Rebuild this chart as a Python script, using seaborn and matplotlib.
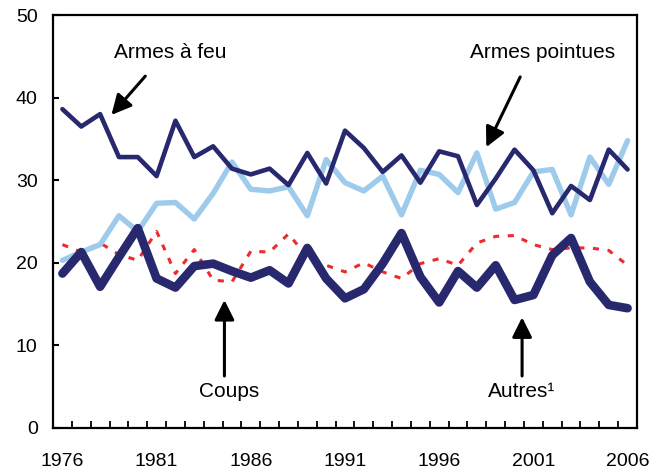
import numpy as np
import pandas as pd
import matplotlib
matplotlib.use("Agg")
import matplotlib.pyplot as plt
import seaborn as sns

# ── data ───────────────────────────────────────────────────
years = list(range(1976, 2007))

armes_feu = [38.6, 36.5, 38.0, 32.8, 32.8, 30.5, 37.2, 32.8, 34.1, 31.4,
             30.7, 31.4, 29.4, 33.3, 29.6, 36.0, 33.9, 31.0, 33.0, 29.7,
             33.5, 32.9, 27.0, 30.2, 33.7, 31.2, 26.0, 29.3, 27.6, 33.7, 31.3]

armes_pointues = [20.3, 21.3, 22.2, 25.7, 23.8, 27.2, 27.3, 25.3, 28.4, 32.2,
                  28.9, 28.7, 29.2, 25.7, 32.5, 29.7, 28.7, 30.5, 25.8, 31.2,
                  30.7, 28.5, 33.3, 26.5, 27.3, 31.0, 31.3, 25.8, 32.8, 29.5, 34.8]

coups = [18.7, 21.3, 17.1, 20.7, 24.2, 18.1, 17.0, 19.6, 19.9, 19.0,
         18.2, 19.1, 17.5, 21.8, 18.1, 15.7, 16.8, 19.9, 23.6, 18.3,
         15.2, 19.0, 17.0, 19.7, 15.5, 16.1, 20.9, 23.0, 17.7, 14.9, 14.5]

autres = [22.2, 21.3, 22.4, 21.0, 20.3, 23.8, 18.7, 21.6, 17.9, 17.7,
          21.4, 21.3, 23.5, 20.7, 19.7, 18.9, 20.0, 18.9, 18.1, 19.9,
          20.5, 19.7, 22.4, 23.2, 23.3, 22.2, 21.6, 21.8, 21.8, 21.5, 19.7]

year_labels = ["1976", "1981", "1986", "1991", "1996", "2001", "2006"]
y_ticks = [0, 10, 20, 30, 40, 50]

NAVY = "#27286e"
LIGHT = "#9ecbec"
RED = "#ee2a2f"

df = pd.DataFrame({
    "year": years,
    "Armes à feu": armes_feu,
    "Armes pointues": armes_pointues,
    "Coups": coups,
    "Autres": autres,
})

sns.set_style("white")
plt.rcParams["font.family"] = ["Liberation Sans", "DejaVu Sans"]
plt.rcParams["text.color"] = "black"
plt.rcParams["xtick.color"] = "black"
plt.rcParams["ytick.color"] = "black"

fig = plt.figure(figsize=(6.57, 4.71), dpi=100)
ax = fig.add_axes([53 / 657, 43 / 471, 584 / 657, 413 / 471])

sns.lineplot(data=df, x="year", y="Autres", ax=ax, color=RED, linewidth=2.2,
             linestyle=(0, (2.0, 2.8)))
sns.lineplot(data=df, x="year", y="Armes pointues", ax=ax, color=LIGHT,
             linewidth=3.9)
sns.lineplot(data=df, x="year", y="Armes à feu", ax=ax, color=NAVY,
             linewidth=3.3)
sns.lineplot(data=df, x="year", y="Coups", ax=ax, color=NAVY, linewidth=6.2)

ax.set_xlim(1975.5, 2006.5)
ax.set_ylim(0, 50)
ax.set_xlabel("")
ax.set_ylabel("")

ax.set_xticks([int(y) for y in year_labels])
ax.set_xticklabels(year_labels)
ax.set_xticks(np.arange(1976.5, 2006, 1.0), minor=True)
ax.tick_params(axis="x", which="major", length=0, pad=18, labelsize=14)
ax.tick_params(axis="x", which="minor", direction="in", length=5,
               width=1.3, bottom=True)
ax.set_yticks(y_ticks)
ax.tick_params(axis="y", direction="in", length=4, width=1.5, pad=11,
               labelsize=14, left=True)

for s in ax.spines.values():
    s.set_visible(True)
    s.set_color("black")
    s.set_linewidth(1.6)

# annotations with arrows
arrow = dict(arrowstyle="-|>,head_length=1.2,head_width=0.6",
             color="black", lw=2.2, shrinkA=0, shrinkB=0)
ax.annotate("", xy=(1978.6, 37.9), xytext=(1980.4, 42.6), arrowprops=arrow)
ax.text(1981.7, 45.4, "Armes à feu", ha="center", va="center", fontsize=15)
ax.annotate("", xy=(1998.5, 34.0), xytext=(2000.3, 42.5), arrowprops=arrow)
ax.text(2001.5, 45.4, "Armes pointues", ha="center", va="center", fontsize=15)
ax.annotate("", xy=(1984.6, 15.5), xytext=(1984.6, 6.3), arrowprops=arrow)
ax.text(1984.85, 4.4, "Coups", ha="center", va="center", fontsize=15)
ax.annotate("", xy=(2000.4, 13.4), xytext=(2000.4, 6.3), arrowprops=arrow)
ax.text(2000.4, 4.4, "Autres¹", ha="center", va="center", fontsize=15)

fig.savefig("out.png", dpi=100)
